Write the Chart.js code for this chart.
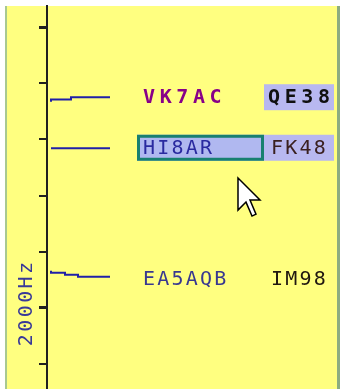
<!DOCTYPE html>
<html>
<head>
<meta charset="utf-8">
<script src="https://cdn.jsdelivr.net/npm/chart.js@4.4.1/dist/chart.umd.min.js"></script>
<style>
  html, body { margin: 0; padding: 0; background: #fff; }
  #wrap { width: 340px; height: 389px; }
</style>
</head>
<body>
<div id="wrap"><canvas id="bandmap" width="340" height="389"></canvas></div>
<script>
// Band map - traces de sinais decodificados (tempo x frequência em Hz)

const calls = ['VK7AC', 'HI8AR', 'EA5AQB'];
const grids = ['QE38', 'FK48', 'IM98'];
const labelHz = [2375, 2285, 2052];
const gridHighlighted = [true, true, false];
const selectedCall = [false, true, false];

// tempo (colunas) e frequência de cada trace
const tempoVK7AC = [4, 24, 48, 63];
const hzVK7AC = [2367, 2371, 2375, 2375];
const tempoHI8AR = [4, 63];
const hzHI8AR = [2284, 2284];
const tempoEA5AQB = [4, 18, 31, 45, 63];
const hzEA5AQB = [2066, 2062.5, 2059, 2055.5, 2055.5];

const eixoHzMin = 1855.5;
const eixoHzMax = 2537.4;
const eixoLabelHz = 2000;
const cursorPos = { t: 191, hz: 2231 };

const pares = (ts, hs) => ts.map((t, i) => ({ x: t, y: hs[i] }));

const corTexto = {
    call: ['#880088', '#2a2aa0', '#383890'],
    grid: ['#101010', '#3a2020', '#201810']
};

const fundoPlugin = {
    id: 'fundo',
    beforeDraw(chart) {
        const c = chart.ctx;
        c.save();
        c.fillStyle = '#ffffff';
        c.fillRect(0, 0, chart.width, chart.height);
        c.fillStyle = '#ffff80';
        c.fillRect(7, 6, 330, chart.height - 6);
        c.fillStyle = '#a8c890';
        c.fillRect(5, 6, 2, chart.height - 6);
        c.fillStyle = '#8cac80';
        c.fillRect(337, 6, 3, chart.height - 6);
        c.restore();
    }
};

const rotulosPlugin = {
    id: 'rotulos',
    afterDatasetsDraw(chart) {
        const c = chart.ctx;
        const ys = chart.scales.y;
        const xs = chart.scales.x;
        const left = chart.chartArea.left;
        c.save();
        c.textBaseline = 'middle';
        calls.forEach((call, i) => {
            const y = ys.getPixelForValue(labelHz[i]);
            if (gridHighlighted[i]) {
                c.fillStyle = '#b8b8f0';
                c.fillRect(left + 217, y - 13, 70, 26);
            }
            if (selectedCall[i]) {
                c.fillStyle = '#b0b8f0';
                c.fillRect(left + 90, y - 13, 127, 26);
                c.strokeStyle = '#188070';
                c.lineWidth = 3;
                c.strokeRect(left + 91.5, y - 11.5, 124, 23);
            }
            const bold = i === 0;
            c.font = (bold ? 'bold ' : '') + '20px "DejaVu Sans Mono"';
            c.letterSpacing = bold ? '4.6px' : '2.2px';
            c.fillStyle = corTexto.call[i];
            c.fillText(call, left + 96, y + 1);
            c.fillStyle = corTexto.grid[i];
            c.fillText(grids[i], left + (bold ? 221 : 224), y + 1);
        });

        // rótulo do eixo
        c.font = '20px "DejaVu Sans Mono"';
        c.letterSpacing = '2.4px';
        c.fillStyle = '#383898';
        c.textAlign = 'center';
        c.translate(27, ys.getPixelForValue(eixoLabelHz) - 4);
        c.rotate(-Math.PI / 2);
        c.fillText(eixoLabelHz + 'Hz', 1, 0);
        c.restore();

        // cursor do mouse
        const px = xs.getPixelForValue(cursorPos.t);
        const py = ys.getPixelForValue(cursorPos.hz);
        const s = 2;
        const pts = [[0, 0], [0, 16], [4, 12], [7, 19], [9, 18], [6, 11], [11, 11]];
        c.save();
        c.beginPath();
        pts.forEach(([a, b], k) => {
            const X = px + a * s, Y = py + b * s;
            k ? c.lineTo(X, Y) : c.moveTo(X, Y);
        });
        c.closePath();
        c.fillStyle = '#ffffff';
        c.fill();
        c.strokeStyle = '#000000';
        c.lineWidth = 1.5;
        c.stroke();
        c.restore();
    }
};

const estiloTrace = {
    borderColor: '#2020a8',
    borderWidth: 2,
    pointRadius: 0,
    stepped: 'after',
    fill: false
};

new Chart(document.getElementById('bandmap'), {
    type: 'line',
    data: {
        datasets: [
            { label: calls[0], data: pares(tempoVK7AC, hzVK7AC), ...estiloTrace },
            { label: calls[1], data: pares(tempoHI8AR, hzHI8AR), ...estiloTrace },
            { label: calls[2], data: pares(tempoEA5AQB, hzEA5AQB), ...estiloTrace }
        ]
    },
    options: {
        responsive: false,
        animation: false,
        layout: { padding: { left: 7, top: 6, right: 3, bottom: 0 } },
        plugins: { legend: { display: false }, tooltip: { enabled: false } },
        scales: {
            x: { type: 'linear', display: false, min: 0, max: 290 },
            y: {
                type: 'linear',
                min: eixoHzMin,
                max: eixoHzMax,
                afterFit: s => { s.width = 40; },
                afterBuildTicks: s => {
                    s.ticks = [];
                    for (let v = 1900; v <= 2500; v += 100) s.ticks.push({ value: v });
                },
                ticks: { display: false },
                border: { display: true, color: '#202020', width: 2 },
                grid: {
                    drawOnChartArea: false,
                    drawTicks: true,
                    tickLength: 8,
                    color: '#202020',
                    lineWidth: ctx => (ctx.tick && ctx.tick.value % 500 === 0 ? 3 : 2)
                }
            }
        }
    },
    plugins: [fundoPlugin, rotulosPlugin]
});
</script>
</body>
</html>
